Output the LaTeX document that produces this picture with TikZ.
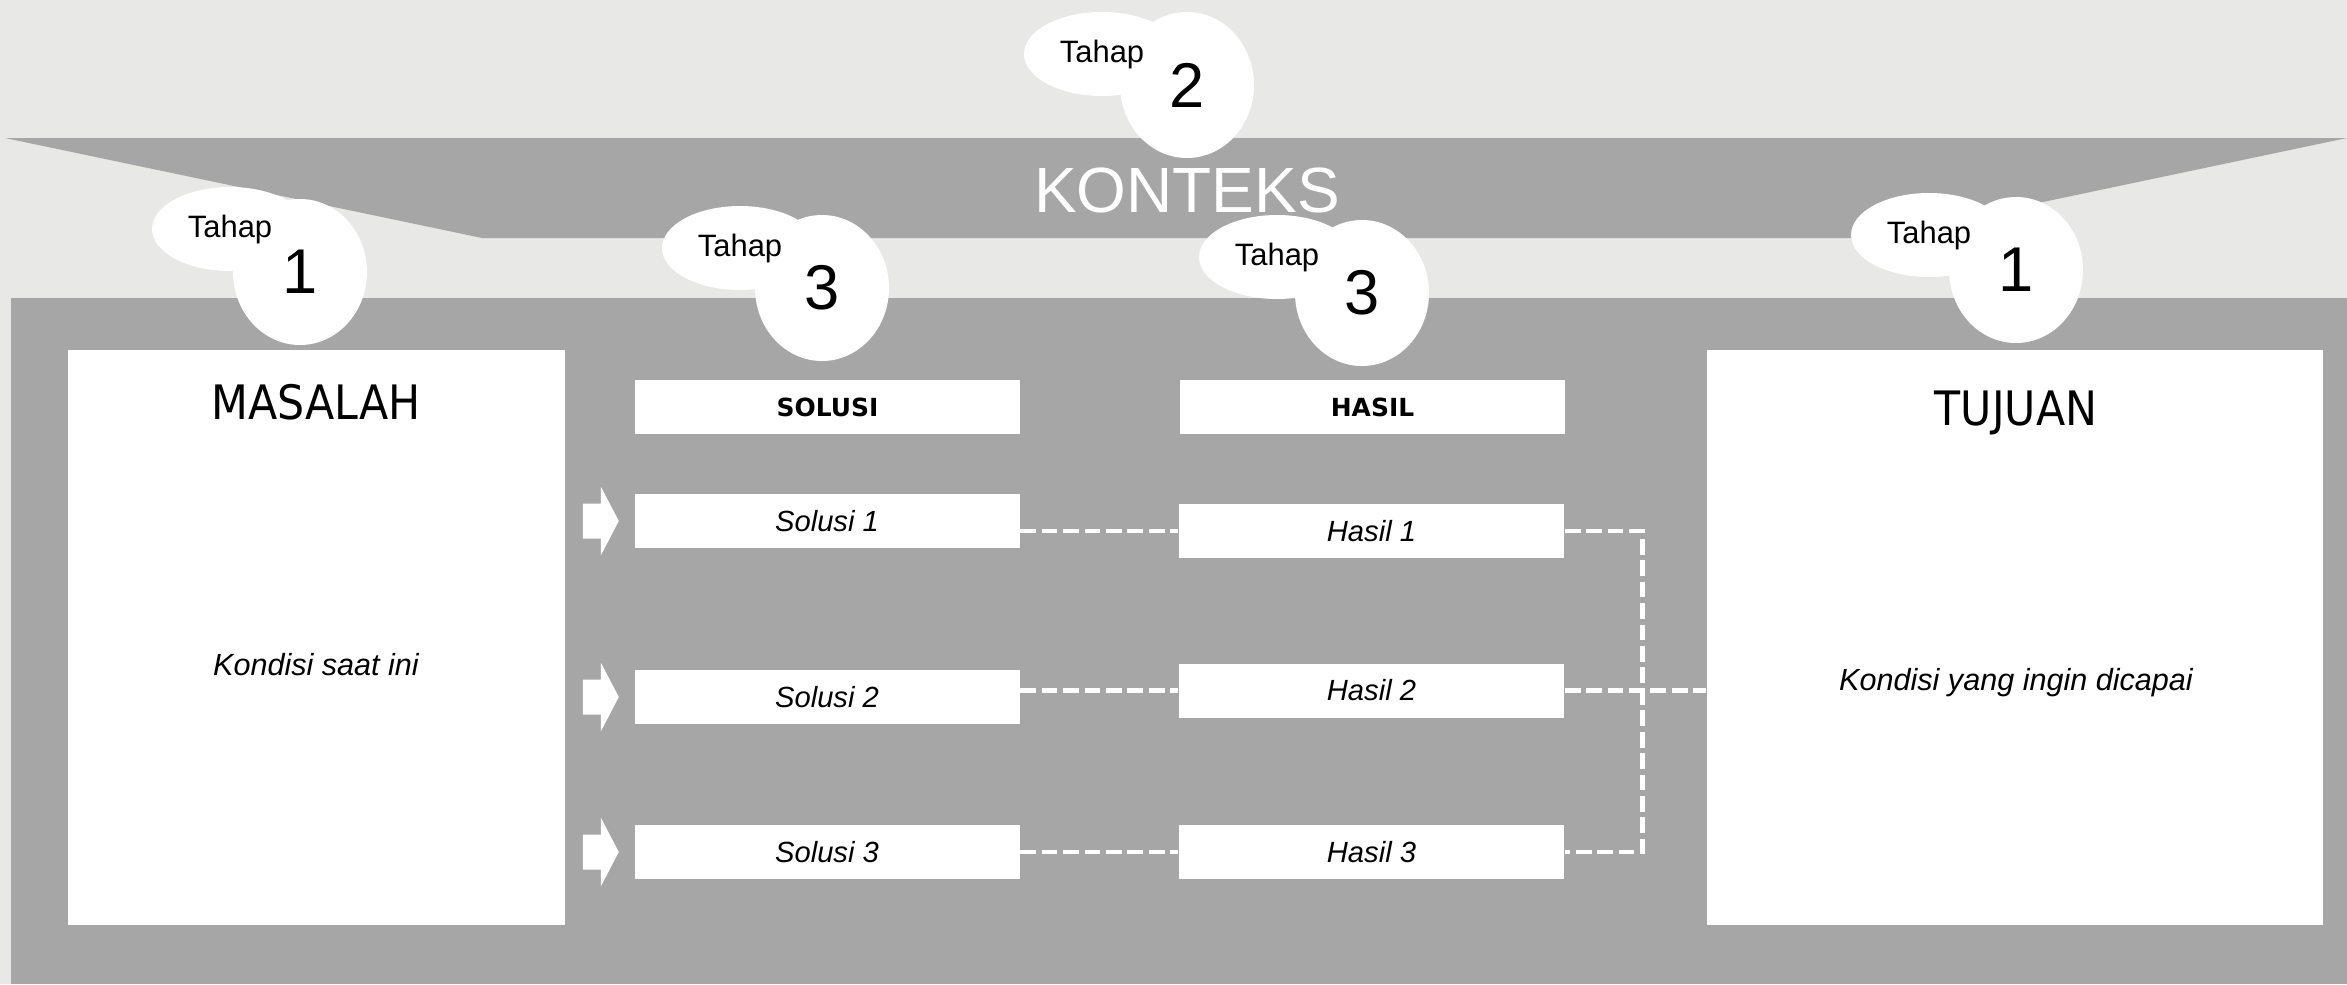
\documentclass[tikz,border=0pt]{standalone}
\usepackage{fontspec}
\setmainfont{Liberation Sans}
\newfontfamily\titlefont[FakeStretch=0.9]{DejaVu Sans}
\newfontfamily\headfont{DejaVu Sans}
\usetikzlibrary{shapes.geometric}

\definecolor{paper}{RGB}{232,232,230}
\definecolor{panel}{RGB}{166,166,166}

\tikzset{
    card/.style={fill=white, inner sep=0pt},
    bigbox/.style={card, minimum height=5.75cm},
    headbox/.style={card, minimum width=3.85cm, minimum height=0.54cm,
        font=\headfont\bfseries\fontsize{7.1}{9}\selectfont},
    itembox/.style={card, minimum width=3.85cm, minimum height=0.54cm,
        font=\itshape\fontsize{8.3}{10}\selectfont},
    titletext/.style={anchor=base, font=\titlefont\fontsize{13.5}{16}\selectfont},
    handtext/.style={anchor=base, font=\itshape\fontsize{8.7}{10}\selectfont},
    numbub/.style={ellipse, fill=white, inner sep=0pt, minimum width=1.34cm,
        minimum height=1.46cm, font=\fontsize{18}{20}\selectfont},
    tahapbub/.style={ellipse, fill=white, inner sep=0pt, minimum width=1.56cm,
        minimum height=0.84cm, font=\fontsize{8.8}{10}\selectfont},
    link/.style={white, line width=1.35pt, dash pattern=on 4.5pt off 1.6pt},
}

\begin{document}
\begin{tikzpicture}
    %% background and bands
    \fill[paper] (0,0) rectangle (23.47,-9.84);
    \useasboundingbox (0,0) rectangle (23.47,-9.84);
    \fill[panel] (0.05,-1.38) -- (23.47,-1.38) -- (18.72,-2.38) -- (4.82,-2.38) -- cycle;
    \node[text=white, font=\fontsize{18.2}{20}\selectfont] (konteks) at (11.87,-1.90) {KONTEKS};
    \fill[panel] (0.11,-2.98) rectangle (23.47,-9.84);

    %% problem and goal
    \node[bigbox, minimum width=4.97cm] (masalah) at (3.165,-6.375) {};
    \node[bigbox, minimum width=6.16cm] (tujuan) at (20.15,-6.375) {};
    \node[titletext] (masalahT) at (3.16,-4.19) {MASALAH};
    \node[titletext] (tujuanT) at (20.16,-4.25) {TUJUAN};
    \node[handtext] (masalahK) at (3.16,-6.75) {Kondisi saat ini};
    \node[handtext] (tujuanK) at (20.16,-6.90) {Kondisi yang ingin dicapai};

    %% column headers
    \node[headbox] (solusi) at (8.275,-4.07) {SOLUSI};
    \node[headbox] (hasil) at (13.725,-4.07) {HASIL};

    %% items
    \node[itembox] (s1) at (8.27,-5.21) {Solusi 1};
    \node[itembox] (s2) at (8.27,-6.97) {Solusi 2};
    \node[itembox] (s3) at (8.27,-8.52) {Solusi 3};
    \node[itembox] (h1) at (13.715,-5.31) {Hasil 1};
    \node[itembox] (h2) at (13.715,-6.905) {Hasil 2};
    \node[itembox] (h3) at (13.715,-8.52) {Hasil 3};

    %% arrows into solutions
    \foreach \s in {s1,s2,s3}
        \fill[white] ([shift={(-0.51,0.175)}]\s.west) -- ++(0.18,0) -- ++(0,0.17)
            -- ++(0.18,-0.345) -- ++(-0.18,-0.345) -- ++(0,0.17) -- ++(-0.18,0) -- cycle;

    %% dashed links
    \draw[link] (h1.west -| s1.east) -- (h1.west);
    \draw[link] (h2.west -| s2.east) -- (h2.west);
    \draw[link] (h3.west -| s3.east) -- (h3.west);
    \draw[link] (h1.east) -- ++(0.78,0) |- (h3.east);
    \draw[link] (h2.east) -- (h2.east -| tujuan.west);

    %% tahap bubbles
    \node[numbub] (n1a) at (3.00,-2.72) {1};
    \node[tahapbub] (t1a) at (2.30,-2.29) {Tahap};
    \node[numbub] (n3a) at (8.22,-2.88) {3};
    \node[tahapbub] (t3a) at (7.40,-2.48) {Tahap};
    \node[numbub] (n2) at (11.87,-0.85) {2};
    \node[tahapbub] (t2) at (11.02,-0.54) {Tahap};
    \node[numbub] (n3b) at (13.62,-2.93) {3};
    \node[tahapbub] (t3b) at (12.77,-2.57) {Tahap};
    \node[numbub] (n1b) at (20.16,-2.70) {1};
    \node[tahapbub] (t1b) at (19.29,-2.35) {Tahap};
\end{tikzpicture}
\end{document}
